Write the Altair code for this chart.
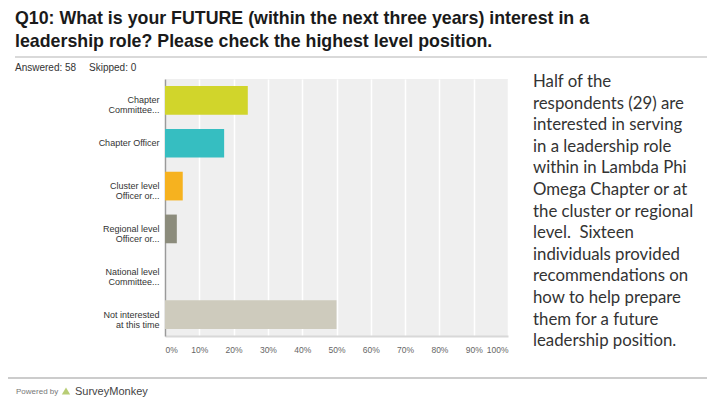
import altair as alt
import pandas as pd

# ---- data ----
categories = ["Chapter|Committee...", "Chapter Officer", "Cluster level|Officer or...",
              "Regional level|Officer or...", "National level|Committee...",
              "Not interested|at this time"]
counts = [14, 10, 3, 2, 0, 29]
total_answered = 58
colors = ["#d1d52b", "#36bec1", "#f6b21f", "#8c8c7c", "#b3a3c9", "#cecbbd"]

title_lines = ["Q10: What is your FUTURE (within the next three years) interest in a",
               "leadership role? Please check the highest level position."]
meta_text = ["Answered: 58", "Skipped: 0"]
paragraph = ["Half of the", "respondents (29) are", "interested in serving",
             "in a leadership role", "within in Lambda Phi", "Omega Chapter or at",
             "the cluster or regional", "level.\u00a0 Sixteen", "individuals provided",
             "recommendations on", "how to help prepare", "them for a future",
             "leadership position."]

bars_df = pd.DataFrame({"cat": categories, "pct": [c / total_answered for c in counts]})

W, H = 343, 257

x_scale = alt.Scale(domain=[0, 1], nice=False)
y_scale = alt.Scale(domain=categories, paddingInner=0.33, paddingOuter=0.165)

bars = alt.Chart(bars_df).mark_bar().encode(
    x=alt.X("pct:Q", scale=x_scale,
            axis=alt.Axis(format=".0%", values=[i / 10 for i in range(11)], title=None,
                          grid=True, gridColor="#ffffff", gridWidth=1.5,
                          domain=True, domainColor="#d8d8d8", domainWidth=2,
                          ticks=False, labelFlush=True, labelPadding=9,
                          labelFont="Liberation Sans", labelFontSize=8.5, labelColor="#666666")),
    y=alt.Y("cat:N", scale=y_scale, sort=categories,
            axis=alt.Axis(title=None, ticks=False, domain=True, domainColor="#9a9a9a",
                          domainWidth=1.5, labelExpr="split(datum.label, '|')",
                          labelFont="Liberation Sans", labelFontSize=9, labelColor="#333333",
                          labelPadding=6, labelLineHeight=10)),
    color=alt.Color("cat:N", scale=alt.Scale(domain=categories, range=colors), legend=None),
)

# header / footer texts
title_df = pd.DataFrame({"t": title_lines, "y": [-55, -32]})
title = alt.Chart(title_df).mark_text(
    align="left", baseline="alphabetic", font="Liberation Sans", fontSize=17.8,
    fontWeight="bold", color="#1a1a1a"
).encode(text="t:N", x=alt.value(-150), y=alt.Y("y:Q", scale=None))

meta_df = pd.DataFrame({"t": meta_text, "x": [-150, -76]})
meta = alt.Chart(meta_df).mark_text(
    align="left", baseline="middle", font="Liberation Sans", fontSize=10, color="#333333"
).encode(text="t:N", x=alt.X("x:Q", scale=None), y=alt.value(-11))

para_df = pd.DataFrame({"t": paragraph, "y": [3 + 21.6 * i for i in range(len(paragraph))]})
para = alt.Chart(para_df).mark_text(
    align="left", baseline="middle", font="Lato", fontSize=16.8, color="#333333"
).encode(text="t:N", x=alt.value(368), y=alt.Y("y:Q", scale=None))

rule_top = alt.Chart(pd.DataFrame({"a": [0]})).mark_rule(color="#cccccc", strokeWidth=1.5).encode(
    x=alt.value(-150), x2=alt.value(542), y=alt.value(-22))
rule_bot = alt.Chart(pd.DataFrame({"a": [0]})).mark_rule(color="#cccccc", strokeWidth=2).encode(
    x=alt.value(-165), x2=alt.value(542), y=alt.value(299))

footer_df = pd.DataFrame({"t": ["Powered by"], "x": [-149]})
footer = alt.Chart(footer_df).mark_text(
    align="left", baseline="middle", font="Liberation Sans", fontSize=8, color="#777777"
).encode(text="t:N", x=alt.X("x:Q", scale=None), y=alt.value(313))
brand = alt.Chart(pd.DataFrame({"t": ["SurveyMonkey"]})).mark_text(
    align="left", baseline="middle", font="Liberation Sans", fontSize=11, color="#444444"
).encode(text="t:N", x=alt.value(-90), y=alt.value(313))
logo = alt.Chart(pd.DataFrame({"t": [0]})).mark_point(
    shape="triangle-up", filled=True, color="#9ab83a", size=70
).encode(x=alt.value(-99), y=alt.value(312))

chart = alt.layer(bars, title, meta, para, rule_top, rule_bot, footer, brand, logo).properties(
    width=W, height=H,
    autosize=alt.AutoSizeParams(type="none"),
    padding={"left": 157, "top": 71, "right": 204, "bottom": 66},
    background="#ffffff",
).configure_view(fill="#efefef", stroke=None)

chart.save("out.html", embed_options={"renderer": "svg", "actions": False})
